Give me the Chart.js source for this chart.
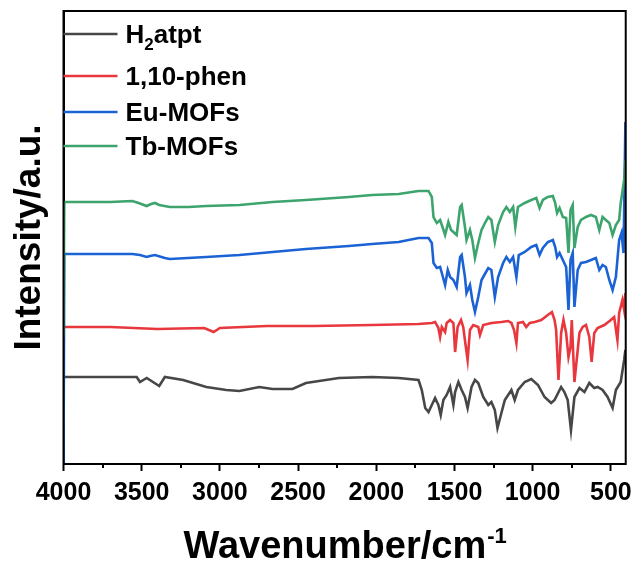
<!DOCTYPE html>
<html>
<head>
<meta charset="utf-8">
<title>FTIR</title>
<script src="https://cdn.jsdelivr.net/npm/chart.js@4.4.1/dist/chart.umd.min.js"></script>
<style>
  html, body { margin: 0; padding: 0; background: #fff; }
  #wrap { width: 639px; height: 565px; }
</style>
</head>
<body>
<div id="wrap"><canvas id="grafico" width="639" height="565"></canvas></div>
<script>
// espectros FTIR (numero de onda em cm-1, intensidade em u.a.)
var atptWave = [4000, 3995, 3800, 3560, 3532, 3511, 3468, 3388, 3352, 3235, 3087, 2959, 2875, 2748, 2663, 2620, 2536, 2450, 2239, 2027, 1857, 1730,
    1709, 1687, 1666, 1645, 1624, 1603, 1588, 1571, 1550, 1528,
    1507, 1496, 1475, 1454, 1433, 1416, 1391, 1369, 1348, 1316,
    1284, 1264, 1242, 1225, 1200, 1178, 1136, 1115, 1094, 1051,
    1009, 966, 924, 882, 860, 818, 797, 776, 755, 733,
    701, 669, 638, 606, 585, 553, 521, 489, 468, 437, 415, 407];
var atptInt = [86, 87, 87, 87, 87, 82, 86, 78, 87, 84, 77, 74, 73, 77, 75, 75, 75, 81, 86, 87, 86, 84,
    74, 56, 52, 59, 66, 59, 49, 64, 69, 77,
    59, 72, 82, 74, 67, 56, 77, 84, 81, 67,
    59, 62, 54, 36, 51, 64, 74, 64, 74, 82,
    85, 79, 67, 61, 64, 77, 72, 64, 34, 67,
    76, 72, 81, 76, 77, 74, 67, 56, 74, 82, 104, 114];

var phenWave = [4000, 3995, 3700, 3400, 3100, 3040, 3000, 2700, 2400, 2027, 1730,
    1645, 1624, 1603, 1592, 1581, 1560, 1550, 1528, 1507, 1496,
    1480, 1458, 1444, 1429, 1416, 1401, 1380, 1348, 1337, 1316,
    1264, 1200, 1157, 1136, 1119, 1104, 1094, 1062, 1041, 1019,
    987, 945, 903, 877, 860, 850, 835, 818, 803, 786,
    771, 758, 750, 733, 712, 701, 680, 659, 638, 623,
    606, 585, 542, 500, 479, 458, 447, 426, 415, 407];
var phenInt = [137, 137, 137, 135, 136, 132, 136, 138, 138, 139, 140,
    141, 142, 136, 127, 137, 132, 141, 144, 141, 112,
    137, 144, 137, 119, 104, 134, 139, 137, 129, 139,
    141, 142, 143, 141, 134, 121, 141, 142, 137, 141,
    142, 144, 149, 152, 144, 134, 84, 131, 144, 131,
    107, 117, 144, 82, 114, 131, 137, 139, 127, 102,
    131, 136, 139, 144, 147, 124, 151, 164, 154, 171];

var euWave = [4000, 3995, 3800, 3560, 3511, 3468, 3447, 3415, 3352, 3320, 3087, 2875, 2663, 2450, 2175, 2027, 1857, 1730, 1666,
    1645, 1634, 1613, 1592, 1581, 1560, 1543, 1528, 1507, 1486,
    1464, 1454, 1433, 1423, 1401, 1386, 1369, 1348, 1327, 1302,
    1284, 1264, 1242, 1221, 1189, 1168, 1146, 1125, 1104, 1089,
    1051, 1009, 977, 956, 935, 903, 871, 856, 844, 828,
    807, 786, 771, 758, 744, 733, 712, 691, 659, 627,
    596, 574, 553, 532, 510, 489, 468, 447, 432, 419, 407];
var euInt = [-8, 210, 210, 210, 209, 207, 208, 209, 206, 205, 207, 209, 212, 215, 218, 220, 222, 226, 226,
    221, 201, 196, 197, 191, 179, 194, 187, 184, 177,
    207, 209, 187, 171, 179, 164, 152, 167, 184, 191,
    196, 194, 167, 187, 201, 207, 202, 207, 187, 209,
    212, 217, 219, 209, 216, 222, 224, 217, 207, 211,
    204, 197, 154, 204, 211, 157, 194, 201, 202, 204,
    206, 194, 199, 197, 184, 174, 187, 224, 231, 211, 342];

var tbWave = [4000, 3995, 3700, 3560, 3520, 3468, 3440, 3415, 3388, 3320, 3200, 3087, 2875, 2663, 2450, 2175, 2027, 1857, 1730, 1666,
    1645, 1634, 1613, 1592, 1581, 1560, 1539, 1522, 1507, 1486,
    1464, 1454, 1433, 1423, 1401, 1386, 1369, 1348, 1327, 1302,
    1284, 1264, 1242, 1221, 1189, 1168, 1146, 1125, 1111, 1094,
    1051, 1009, 977, 956, 935, 903, 871, 856, 844, 828,
    807, 786, 771, 758, 744, 733, 712, 691, 659, 627,
    596, 574, 553, 532, 510, 489, 468, 447, 437, 415, 407];
var tbInt = [127, 262, 262, 263, 261, 258, 260, 261, 259, 257, 257, 258, 259, 262, 264, 267, 269, 270, 273, 273,
    267, 247, 241, 244, 239, 229, 242, 234, 232, 229,
    257, 259, 237, 224, 234, 224, 206, 221, 234, 242,
    247, 244, 222, 239, 252, 257, 252, 257, 237, 257,
    261, 264, 266, 256, 264, 267, 268, 261, 251, 256,
    247, 246, 211, 254, 259, 216, 237, 244, 247, 249,
    247, 234, 247, 244, 241, 229, 239, 244, 261, 284, 304];

var nomes = ['H2atpt', '1,10-phen', 'Eu-MOFs', 'Tb-MOFs'];
var cores = ['#474747', '#e8373d', '#1b63d4', '#3ca46c'];
var xTicks = [4000, 3750, 3500, 3250, 3000, 2750, 2500, 2250, 2000, 1750, 1500, 1250, 1000, 750, 500];

var fonte = '"Liberation Sans", Arial, sans-serif';

function pontos(wave, inten) {
    return wave.map(function (w, i) { return { x: w, y: inten[i] }; });
}

var series = [pontos(atptWave, atptInt), pontos(phenWave, phenInt), pontos(euWave, euInt), pontos(tbWave, tbInt)];

function principal(v) { return v % 500 === 0; }

// moldura, ticks menores, legenda e titulo do eixo x (com expoente)
var extras = {
    id: 'extras',
    afterDraw: function (chart) {
        var ctx = chart.ctx;
        var a = chart.chartArea;
        var sx = chart.scales.x;
        ctx.save();
        ctx.strokeStyle = '#000';
        ctx.lineWidth = 2;
        ctx.strokeRect(a.left, a.top, a.right - a.left, a.bottom - a.top);

        ctx.lineWidth = 2;
        xTicks.forEach(function (v) {
            if (principal(v)) return;
            var px = Math.round(sx.getPixelForValue(v));
            ctx.beginPath();
            ctx.moveTo(px, a.bottom);
            ctx.lineTo(px, a.bottom + 4);
            ctx.stroke();
        });

        var linhaY = [34, 76, 112, 146];
        ctx.textBaseline = 'alphabetic';
        ctx.textAlign = 'left';
        for (var i = 0; i < nomes.length; i++) {
            ctx.strokeStyle = cores[i];
            ctx.lineWidth = 2.5;
            ctx.beginPath();
            ctx.moveTo(a.left, linhaY[i]);
            ctx.lineTo(a.left + 54, linhaY[i]);
            ctx.stroke();

            ctx.fillStyle = '#000';
            ctx.font = 'bold 26px ' + fonte;
            var x = a.left + 62;
            var base = linhaY[i] + 9;
            if (nomes[i] == 'H2atpt') {
                ctx.fillText('H', x, base);
                x += ctx.measureText('H').width;
                ctx.font = 'bold 17px ' + fonte;
                ctx.fillText('2', x, base + 7);
                x += ctx.measureText('2').width;
                ctx.font = 'bold 26px ' + fonte;
                ctx.fillText('atpt', x, base);
            } else {
                ctx.fillText(nomes[i], x, base);
            }
        }

        var titulo = 'Wavenumber/cm';
        var expoente = '-1';
        ctx.font = 'bold 38px ' + fonte;
        var w1 = ctx.measureText(titulo).width;
        ctx.font = 'bold 22px ' + fonte;
        var w2 = ctx.measureText(expoente).width;
        var x0 = (a.left + a.right) / 2 - (w1 + w2) / 2;
        ctx.font = 'bold 38px ' + fonte;
        ctx.fillText(titulo, x0, 558);
        ctx.font = 'bold 22px ' + fonte;
        ctx.fillText(expoente, x0 + w1 + 1, 543);
        ctx.restore();
    }
};

var ctx = document.getElementById('grafico');
var grafico = new Chart(ctx, {
    type: 'line',
    data: {
        datasets: series.map(function (s, i) {
            return {
                label: nomes[i],
                data: s,
                borderColor: cores[i],
                backgroundColor: cores[i],
                borderWidth: 2.6,
                pointRadius: 0,
                tension: 0,
                fill: false,
                order: nomes.length - i
            };
        })
    },
    options: {
        responsive: false,
        animation: false,
        devicePixelRatio: 1,
        layout: { padding: { top: 11, right: 10.5, left: 0, bottom: 0 } },
        plugins: {
            legend: { display: false },
            tooltip: { enabled: false }
        },
        scales: {
            x: {
                type: 'linear',
                min: 405,
                max: 4000,
                reverse: true,
                afterBuildTicks: function (scale) {
                    scale.ticks = xTicks.map(function (v) { return { value: v }; });
                },
                afterFit: function (scale) { scale.height = 101; },
                grid: {
                    drawOnChartArea: false,
                    drawTicks: true,
                    tickLength: 7,
                    tickWidth: 2,
                    tickColor: function (c) { return c.tick && principal(c.tick.value) ? '#000' : 'rgba(0,0,0,0)'; }
                },
                border: { display: true, color: '#000', width: 2 },
                ticks: {
                    autoSkip: false,
                    maxRotation: 0,
                    padding: 7,
                    color: '#000',
                    font: { family: fonte, size: 25, weight: 'bold' },
                    callback: function (v) { return principal(v) ? v : ''; }
                }
            },
            y: {
                min: 0,
                max: 453,
                afterFit: function (scale) { scale.width = 63.5; },
                grid: { display: false },
                border: { display: true, color: '#000', width: 2 },
                ticks: { display: false },
                title: {
                    display: true,
                    text: 'Intensity/a.u.',
                    color: '#000',
                    padding: { top: 11, bottom: 0 },
                    font: { family: fonte, size: 37, weight: 'bold', lineHeight: 1 }
                }
            }
        }
    },
    plugins: [extras]
});
</script>
</body>
</html>
